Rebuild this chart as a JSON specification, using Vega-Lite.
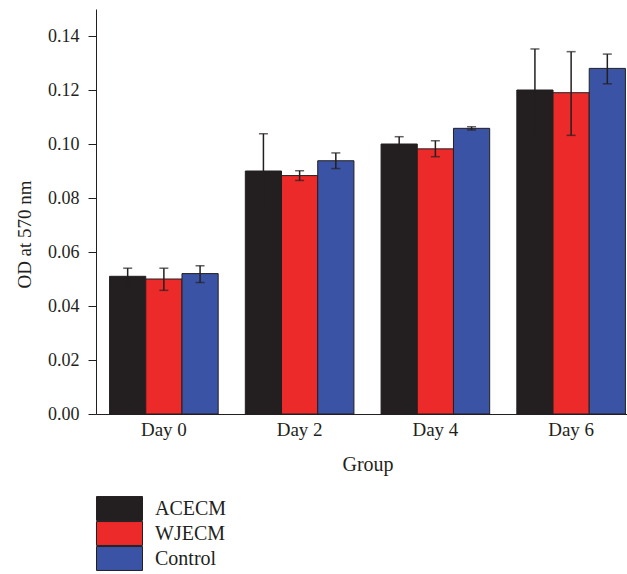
{
  "$schema": "https://vega.github.io/schema/vega-lite/v6.json",
  "autosize": {"type": "none"},
  "padding": {"left": 96, "top": 9, "right": 0, "bottom": 160},
  "width": 543,
  "height": 405,
  "background": "white",
  "config": {
    "view": {"stroke": null},
    "font": "Liberation Serif",
    "axis": {"labelFont": "Liberation Serif", "titleFont": "Liberation Serif", "labelColor": "#231f20", "titleColor": "#231f20", "titleFontWeight": "normal", "domainColor": "#231f20", "tickColor": "#231f20", "grid": false}
  },
  "data": {"values": [
    {"Group": "Day 0", "Series": "ACECM", "mean": 0.051, "lo": 0.048, "hi": 0.054},
    {"Group": "Day 0", "Series": "WJECM", "mean": 0.050, "lo": 0.0458, "hi": 0.054},
    {"Group": "Day 0", "Series": "Control", "mean": 0.052, "lo": 0.0487, "hi": 0.0549},
    {"Group": "Day 2", "Series": "ACECM", "mean": 0.090, "lo": 0.076, "hi": 0.1038},
    {"Group": "Day 2", "Series": "WJECM", "mean": 0.0883, "lo": 0.0865, "hi": 0.0901},
    {"Group": "Day 2", "Series": "Control", "mean": 0.0938, "lo": 0.0909, "hi": 0.0967},
    {"Group": "Day 4", "Series": "ACECM", "mean": 0.100, "lo": 0.0973, "hi": 0.1027},
    {"Group": "Day 4", "Series": "WJECM", "mean": 0.0982, "lo": 0.0953, "hi": 0.1012},
    {"Group": "Day 4", "Series": "Control", "mean": 0.1058, "lo": 0.1052, "hi": 0.1064},
    {"Group": "Day 6", "Series": "ACECM", "mean": 0.120, "lo": 0.1047, "hi": 0.1352},
    {"Group": "Day 6", "Series": "WJECM", "mean": 0.119, "lo": 0.1032, "hi": 0.1342},
    {"Group": "Day 6", "Series": "Control", "mean": 0.128, "lo": 0.1223, "hi": 0.1333}
  ]},
  "encoding": {
    "x": {"field": "Group", "type": "nominal", "scale": {"paddingInner": 0.2, "paddingOuter": 0.1},
      "axis": {"title": "Group", "labelAngle": 0, "ticks": false, "labelFontSize": 19, "labelPadding": 6, "titleFontSize": 20, "titlePadding": 15}},
    "xOffset": {"field": "Series", "type": "nominal", "sort": ["ACECM", "WJECM", "Control"], "scale": {"paddingInner": 0, "paddingOuter": 0}}
  },
  "layer": [
    {
      "mark": {"type": "bar", "stroke": "#231f20", "strokeWidth": 1},
      "encoding": {
        "y": {"field": "mean", "type": "quantitative", "scale": {"domain": [0, 0.15], "nice": false},
          "axis": {"title": "OD at 570 nm", "values": [0, 0.02, 0.04, 0.06, 0.08, 0.1, 0.12, 0.14], "format": ".2f", "labelFontSize": 18, "titleFontSize": 19, "tickSize": 8, "labelPadding": 9, "titleX": -62, "titleY": 225}},
        "color": {"field": "Series", "type": "nominal", "sort": ["ACECM", "WJECM", "Control"],
          "scale": {"domain": ["ACECM", "WJECM", "Control"], "range": ["#231f20", "#ed2a2a", "#3a53a4"]},
          "legend": {"title": null, "orient": "none", "legendX": 0, "legendY": 487, "padding": 0,
            "symbolType": "M-1,-0.52H1V0.52H-1Z", "symbolSize": 2116, "symbolStrokeColor": "#231f20", "symbolStrokeWidth": 1, "symbolOpacity": 1,
            "clipHeight": 25,
            "labelFont": "Liberation Serif", "labelFontSize": 20, "labelColor": "#231f20", "labelOffset": 12, "rowPadding": 0}}
      }
    },
    {
      "mark": {"type": "rule", "color": "#231f20", "strokeWidth": 1.5},
      "encoding": {"y": {"field": "lo", "type": "quantitative"}, "y2": {"field": "hi"}}
    },
    {
      "mark": {"type": "tick", "color": "#231f20", "thickness": 1.5, "size": 9},
      "encoding": {"y": {"field": "hi", "type": "quantitative"}}
    },
    {
      "mark": {"type": "tick", "color": "#231f20", "thickness": 1.5, "size": 9},
      "encoding": {"y": {"field": "lo", "type": "quantitative"}}
    }
  ]
}
